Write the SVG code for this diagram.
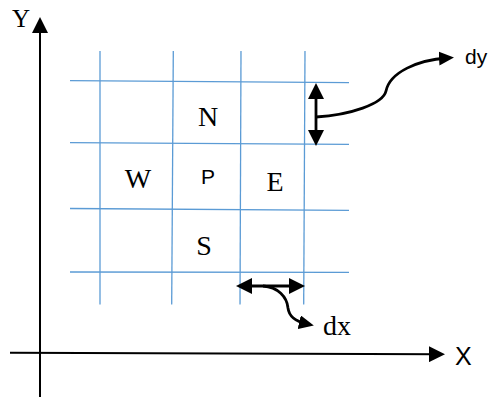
<svg xmlns="http://www.w3.org/2000/svg" width="496" height="398" viewBox="0 0 496 398">
<style>
.grid line{stroke:#5B9BD5;stroke-width:1.3;}
.axis{stroke:#000;stroke-width:2;fill:none;}
.arr{stroke:#000;stroke-width:2.8;fill:none;}
.serif{font-family:"Liberation Serif","Times New Roman",serif;fill:#000;}
.sans{font-family:"Liberation Sans",Arial,sans-serif;fill:#000;}
</style>
<defs>
<marker id="ah" markerUnits="userSpaceOnUse" viewBox="0 0 16 16" markerWidth="16" markerHeight="16" refX="9" refY="8" orient="auto-start-reverse">
<path d="M0,0 L16,8 L0,16 z" fill="#000"/>
</marker>
<marker id="ahs" markerUnits="userSpaceOnUse" viewBox="0 0 15 14" markerWidth="15" markerHeight="14" refX="8" refY="7" orient="auto-start-reverse">
<path d="M0,0 L15,7 L0,14 z" fill="#000"/>
</marker>
</defs>
<g id="grid" class="grid">
<line x1="70" y1="80.7" x2="349" y2="82.7"/>
<line x1="70" y1="142.7" x2="349" y2="144.3"/>
<line x1="70" y1="208.5" x2="349" y2="210.3"/>
<line x1="70" y1="272" x2="349" y2="272.3"/>
<line x1="100" y1="51" x2="100" y2="304.5"/>
<line x1="173.3" y1="51" x2="171.7" y2="304.5"/>
<line x1="241" y1="51" x2="240" y2="304.5"/>
<line x1="305" y1="51" x2="303.7" y2="304.5"/>
</g>
<g id="connectors">
<line class="axis" x1="40" y1="397" x2="40" y2="24" marker-end="url(#ah)"/>
<line class="axis" x1="10" y1="352.7" x2="438" y2="354.2" marker-end="url(#ah)"/>
<line class="arr" x1="316" y1="90" x2="316" y2="139" marker-start="url(#ah)" marker-end="url(#ah)"/>
<path class="arr" d="M316,117 C350,115 383,104 386,91 C390,72 418,60 447,58" marker-end="url(#ahs)"/>
<line class="arr" x1="243" y1="286" x2="298" y2="286" marker-start="url(#ah)" marker-end="url(#ah)"/>
<path class="arr" d="M263,286 C278,287 287,297 288,308 C289,316 294,321 307,324" marker-end="url(#ahs)"/>
</g>
<g id="label-Y"><text class="serif" x="12" y="27" font-size="25">Y</text></g>
<g id="label-X"><text class="sans" x="455" y="365" font-size="25">X</text></g>
<g id="node-N"><text class="serif" x="208" y="126" font-size="28" text-anchor="middle">N</text></g>
<g id="node-W"><text class="serif" x="138" y="188" font-size="28" text-anchor="middle">W</text></g>
<g id="node-P"><text class="sans" x="208" y="184" font-size="21" text-anchor="middle">P</text></g>
<g id="node-E"><text class="serif" x="275" y="191" font-size="28" text-anchor="middle">E</text></g>
<g id="node-S"><text class="serif" x="204" y="255" font-size="28" text-anchor="middle">S</text></g>
<g id="label-dy"><text class="sans" x="465" y="64" font-size="21">dy</text></g>
<g id="label-dx"><text class="serif" x="323" y="335" font-size="28">dx</text></g>
</svg>
